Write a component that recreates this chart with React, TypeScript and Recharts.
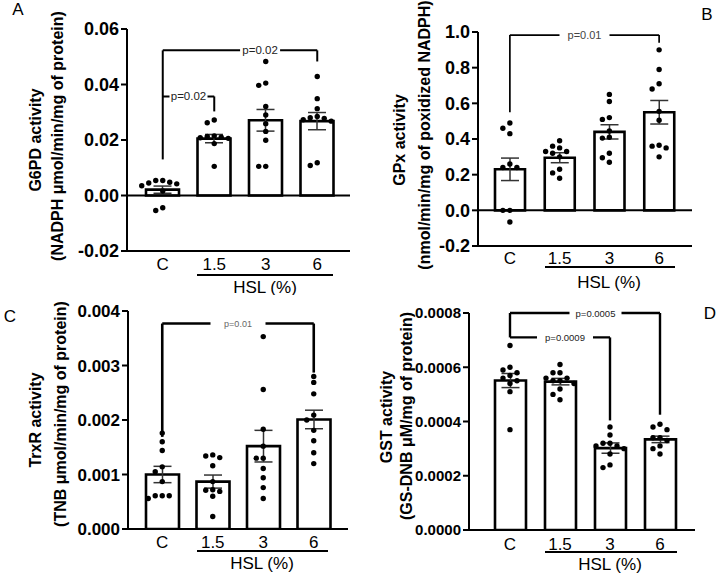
import React from 'react';
import { ComposedChart, Bar, ErrorBar, Scatter, XAxis, YAxis, ReferenceLine } from 'recharts';

const groups = ['C', '1.5', '3', '6'];

// Panel A – G6PD
const g6pdMean = [0.0021, 0.0205, 0.0271, 0.0268];
const g6pdSem = [0.0013, 0.0015, 0.0039, 0.0031];
const g6pdC = [0.0054, 0.0054, 0.0048, 0.0045, 0.0042, 0.0035, 0.0016, -0.0044, -0.0054];
const g6pd15 = [0.0272, 0.0262, 0.0215, 0.0213, 0.021, 0.0208, 0.0206, 0.0187, 0.0105];
const g6pd3 = [0.0483, 0.0405, 0.0397, 0.0321, 0.029, 0.0259, 0.0231, 0.0199, 0.0105, 0.0105];
const g6pd6 = [0.0429, 0.0349, 0.0313, 0.0285, 0.028, 0.0278, 0.0273, 0.0268, 0.0118, 0.0108];
const g6pdTicks = [-0.02, 0, 0.02, 0.04, 0.06];

// Panel B – GPx
const gpxMean = [0.23, 0.295, 0.44, 0.55];
const gpxSem = [0.063, 0.028, 0.04, 0.066];
const gpxC = [0.49, 0.46, 0.43, 0.26, 0.24, 0.24, 0.0, 0.0, -0.065];
const gpx15 = [0.39, 0.36, 0.35, 0.33, 0.33, 0.32, 0.3, 0.23, 0.21, 0.18];
const gpx3 = [0.65, 0.61, 0.52, 0.51, 0.445, 0.41, 0.405, 0.32, 0.295, 0.27];
const gpx6 = [0.9, 0.79, 0.71, 0.68, 0.555, 0.505, 0.365, 0.36, 0.35, 0.3];
const gpxTicks = [-0.2, 0, 0.2, 0.4, 0.6, 0.8, 1.0];

// Panel C – TrxR
const trxrMean = [0.001, 0.00087, 0.00152, 0.00201];
const trxrSem = [0.00015, 0.00012, 0.00029, 0.00017];
const trxrC = [0.00176, 0.0016, 0.00144, 0.00114, 0.00105, 0.00087, 0.00061, 0.00061, 0.00061, 0.00056];
const trxr15 = [0.00136, 0.00134, 0.00131, 0.00116, 0.00087, 0.00072, 0.00071, 0.00069, 0.0006, 0.00023];
const trxr3 = [0.00353, 0.00256, 0.00183, 0.00152, 0.0013, 0.0013, 0.00111, 0.00094, 0.00076, 0.00056];
const trxr6 = [0.0028, 0.00269, 0.00248, 0.00209, 0.002, 0.00181, 0.00162, 0.0014, 0.0012];
const trxrTicks = [0, 0.001, 0.002, 0.003, 0.004];

// Panel D – GST
const gstMean = [0.000551, 0.000547, 0.000302, 0.000334];
const gstSem = [0.000026, 0.000012, 0.000019, 0.000012];
const gstC = [0.00068, 0.0006, 0.00059, 0.00058, 0.00057, 0.00056, 0.00055, 0.00054, 0.00051, 0.00037];
const gst15 = [0.00061, 0.00058, 0.00058, 0.00056, 0.00056, 0.00055, 0.00055, 0.00054, 0.00052, 0.0005, 0.00048];
const gst3 = [0.00038, 0.00035, 0.00032, 0.00032, 0.00031, 0.00031, 0.0003, 0.00028, 0.00024, 0.00023];
const gst6 = [0.00039, 0.00038, 0.00037, 0.00034, 0.00034, 0.00033, 0.00031, 0.0003, 0.00028];
const gstTicks = [0, 0.0002, 0.0004, 0.0006, 0.0008];

const FONT = "'Liberation Sans', Arial, sans-serif";

type Bracket = {
  x1: string; x2: string; y: number; drop1?: number; drop2?: number;
  label: string; frac: number; gap: number; size: number; color: string; sw: number;
};

function swarm(values: number[], pxPerUnit: number): number[] {
  const placed: { v: number; s: number }[] = [];
  const order = [0, -1, 1, -2, 2, -3, 3, -4, 4];
  return values.map((v) => {
    for (const s of order) {
      if (!placed.some((p) => p.s === s && Math.abs(p.v - v) * pxPerUnit < 5.5)) {
        placed.push({ v, s });
        return s;
      }
    }
    return 0;
  });
}

const CatTick = (props: any) => {
  const { x, payload, labelY } = props;
  return (
    <text x={x} y={labelY} textAnchor="middle" dominantBaseline="central" fontSize={17} fill="#000" fontFamily={FONT}>
      {payload.value}
    </text>
  );
};

const HslLabel = (props: any) => {
  const { ux1, ux2, uy, tx, ty } = props;
  return (
    <g>
      <line x1={ux1} x2={ux2} y1={uy} y2={uy} stroke="#000" strokeWidth={2} />
      <text x={tx} y={ty} textAnchor="middle" dominantBaseline="central" fontSize={17} fill="#000" fontFamily={FONT}>
        HSL (%)
      </text>
    </g>
  );
};

const YTitle = (props: any) => {
  const { tLines, tXs, tYs } = props;
  return (
    <g>
      {tLines.map((t: string, i: number) => (
        <text
          key={i}
          x={tXs[i]}
          y={tYs[i]}
          transform={`rotate(-90, ${tXs[i]}, ${tYs[i]})`}
          textAnchor="middle"
          dominantBaseline="central"
          fontSize={16}
          fontWeight={700}
          fill="#000"
          fontFamily={FONT}
        >
          {t}
        </text>
      ))}
    </g>
  );
};

const BracketLabel = (props: any) => {
  const { viewBox, bText, bFrac, bGap, bSize, bColor } = props;
  if (!viewBox) return null;
  const cx = viewBox.x + viewBox.width * bFrac;
  const cy = viewBox.y;
  return (
    <g>
      <rect x={cx - bGap / 2} y={cy - 4} width={bGap} height={8} fill="#fff" />
      <text x={cx} y={cy} textAnchor="middle" dominantBaseline="central" fontSize={bSize} fill={bColor} fontFamily={FONT}>
        {bText}
      </text>
    </g>
  );
};

type PanelCfg = {
  letter: string;
  letterPos: [number, number];
  means: number[];
  sems: number[];
  pts: number[][];
  ticks: number[];
  dec: number;
  tickFont: number;
  zeroLine: boolean;
  titles: string[];
  brackets: Bracket[];
  box: { left: number; top: number; w: number; h: number };
  plot: { l: number; r: number; t: number; b: number };
  pad: { left: number; right: number };
  bw: number;
  catY: number;
  under: { x1: number; x2: number; y: number; tx: number; ty: number };
  titleX: number[];
  titleY: number[];
};

function Panel({ cfg }: { cfg: PanelCfg }) {
  const { box, plot } = cfg;
  const yMin = cfg.ticks[0];
  const yMax = cfg.ticks[cfg.ticks.length - 1];
  const pxPerUnit = (plot.b - plot.t) / (yMax - yMin);
  const barData = groups.map((g, i) => ({ group: g, mean: cfg.means[i], sem: cfg.sems[i] }));
  const pointData: { group: string; value: number; slot: number }[] = [];
  cfg.pts.forEach((vals, gi) => {
    const slots = swarm(vals, pxPerUnit);
    vals.forEach((v, k) => pointData.push({ group: groups[gi], value: v, slot: slots[k] }));
  });
  const YW = 60;
  const XH = 30;
  const margin = {
    top: plot.t,
    left: plot.l - YW,
    right: box.w - plot.r,
    bottom: box.h - plot.b - XH,
  };
  const lines: React.ReactNode[] = [];
  cfg.brackets.forEach((b, i) => {
    if (b.drop1 !== undefined) {
      lines.push(
        <ReferenceLine key={`l${i}`} ifOverflow="visible" stroke="#000" strokeWidth={b.sw}
          segment={[{ x: b.x1, y: b.drop1 }, { x: b.x1, y: b.y }]} />
      );
    }
    lines.push(
      <ReferenceLine key={`h${i}`} ifOverflow="visible" stroke="#000" strokeWidth={b.sw}
        segment={[{ x: b.x1, y: b.y }, { x: b.x2, y: b.y }]}
        label={<BracketLabel bText={b.label} bFrac={b.frac} bGap={b.gap} bSize={b.size} bColor={b.color} />} />
    );
    if (b.drop2 !== undefined) {
      lines.push(
        <ReferenceLine key={`r${i}`} ifOverflow="visible" stroke="#000" strokeWidth={b.sw}
          segment={[{ x: b.x2, y: b.y }, { x: b.x2, y: b.drop2 }]} />
      );
    }
  });
  return (
    <div style={{ position: 'absolute', left: box.left, top: box.top, width: box.w, height: box.h }}>
      <ComposedChart width={box.w} height={box.h} data={barData} margin={margin}>
        <XAxis
          dataKey="group"
          type="category"
          allowDuplicatedCategory={false}
          interval={0}
          height={XH}
          padding={cfg.pad}
          axisLine={{ stroke: '#000', strokeWidth: 2 }}
          tickLine={false}
          tick={<CatTick labelY={cfg.catY} />}
          label={<HslLabel ux1={cfg.under.x1} ux2={cfg.under.x2} uy={cfg.under.y} tx={cfg.under.tx} ty={cfg.under.ty} />}
        />
        <YAxis
          type="number"
          domain={[yMin, yMax]}
          ticks={cfg.ticks}
          allowDataOverflow
          interval={0}
          width={YW}
          tickFormatter={(v: number) => v.toFixed(cfg.dec)}
          axisLine={{ stroke: '#000', strokeWidth: 2 }}
          tickLine={{ stroke: '#000', strokeWidth: 2 }}
          tickSize={6}
          tickMargin={2}
          tick={{ fontSize: cfg.tickFont, fontWeight: 700, fill: '#000', fontFamily: FONT }}
          label={<YTitle tLines={cfg.titles} tXs={cfg.titleX} tYs={cfg.titleY} />}
        />
        {cfg.zeroLine && <ReferenceLine y={0} stroke="#000" strokeWidth={2} />}
        <Bar dataKey="mean" fill="#fff" stroke="#000" strokeWidth={2.6} barSize={cfg.bw} isAnimationActive={false}>
          <ErrorBar dataKey="sem" width={9} stroke="#333" strokeWidth={1.5} />
        </Bar>
        <Scatter
          data={pointData}
          dataKey="value"
          isAnimationActive={false}
          shape={(p: any) => (
            <circle cx={p.cx + (p.payload?.slot ?? 0) * 7} cy={p.cy} r={2.7} fill="#000" />
          )}
        />
        {lines}
      </ComposedChart>
    </div>
  );
}

const panels: PanelCfg[] = [
  {
    letter: 'A', letterPos: [18, 9],
    means: g6pdMean, sems: g6pdSem, pts: [g6pdC, g6pd15, g6pd3, g6pd6],
    ticks: g6pdTicks, dec: 2, tickFont: 18, zeroLine: true,
    titles: ['G6PD activity', '(NADPH \u03bcmol/min/mg of protein)'],
    brackets: [
      { x1: 'C', x2: '6', y: 0.0523, drop1: 0.013, drop2: 0.0483, label: 'p=0.02', frac: 0.63, gap: 40, size: 11.5, color: '#222', sw: 2 },
      { x1: 'C', x2: '1.5', y: 0.0357, drop2: 0.0303, label: 'p=0.02', frac: 0.5, gap: 38, size: 11.5, color: '#222', sw: 2 },
    ],
    box: { left: 0, top: 0, w: 362, h: 295 },
    plot: { l: 127, r: 350, t: 29, b: 251 },
    pad: { left: 10, right: 7 }, bw: 33, catY: 264,
    under: { x1: 197, x2: 333, y: 275, tx: 265, ty: 287 },
    titleX: [35, 57], titleY: [140, 136],
  },
  {
    letter: 'B', letterPos: [707, 14],
    means: gpxMean, sems: gpxSem, pts: [gpxC, gpx15, gpx3, gpx6],
    ticks: gpxTicks, dec: 1, tickFont: 18, zeroLine: true,
    titles: ['GPx activity', '(nmol/min/mg of poxidized NADPH)'],
    brackets: [
      { x1: 'C', x2: '6', y: 0.983, drop1: 0.55, drop2: 0.94, label: 'p=0.01', frac: 0.5, gap: 50, size: 11, color: '#444', sw: 1.7 },
    ],
    box: { left: 362, top: 0, w: 362, h: 295 },
    plot: { l: 116, r: 330, t: 32, b: 246 },
    pad: { left: 7, right: 8 }, bw: 30, catY: 258,
    under: { x1: 183, x2: 313, y: 267, tx: 247, ty: 282 },
    titleX: [37, 62], titleY: [140, 135],
  },
  {
    letter: 'C', letterPos: [10, 316],
    means: trxrMean, sems: trxrSem, pts: [trxrC, trxr15, trxr3, trxr6],
    ticks: trxrTicks, dec: 3, tickFont: 17, zeroLine: false,
    titles: ['TrxR activity', '(TNB \u03bcmol/min/mg of protein)'],
    brackets: [
      { x1: 'C', x2: '6', y: 0.00377, drop1: 0.00169, drop2: 0.00287, label: 'p=0.01', frac: 0.5, gap: 55, size: 9, color: '#666', sw: 2.6 },
    ],
    box: { left: 0, top: 290, w: 362, h: 285 },
    plot: { l: 128, r: 348, t: 21, b: 239 },
    pad: { left: 9, right: 9 }, bw: 33, catY: 252,
    under: { x1: 197, x2: 328, y: 261, tx: 262, ty: 273 },
    titleX: [35, 60], titleY: [130, 124],
  },
  {
    letter: 'D', letterPos: [710, 313],
    means: gstMean, sems: gstSem, pts: [gstC, gst15, gst3, gst6],
    ticks: gstTicks, dec: 4, tickFont: 15, zeroLine: false,
    titles: ['GST activity', '(GS-DNB \u03bcM/mg of protein)'],
    brackets: [
      { x1: 'C', x2: '6', y: 0.0008, drop1: 0.00071, drop2: 0.000425, label: 'p=0.0005', frac: 0.57, gap: 52, size: 9.5, color: '#222', sw: 2.4 },
      { x1: 'C', x2: '3', y: 0.00071, drop2: 0.000404, label: 'p=0.0009', frac: 0.55, gap: 56, size: 9.5, color: '#222', sw: 2.4 },
    ],
    box: { left: 362, top: 290, w: 362, h: 285 },
    plot: { l: 107, r: 333, t: 23, b: 240 },
    pad: { left: 16, right: 10 }, bw: 31, catY: 254,
    under: { x1: 183, x2: 315, y: 262, tx: 248, ty: 274 },
    titleX: [24, 44], titleY: [127, 126],
  },
];

export default function App() {
  return (
    <div style={{ position: 'absolute', left: 0, top: 0, width: 724, height: 575, background: '#fff', fontFamily: FONT, overflow: 'hidden' }}>
      {panels.map((p) => (
        <Panel key={p.letter} cfg={p} />
      ))}
      {panels.map((p) => (
        <div
          key={`lt${p.letter}`}
          style={{
            position: 'absolute',
            left: p.letterPos[0],
            top: p.letterPos[1],
            transform: 'translate(-50%, -50%)',
            fontSize: 17,
            color: '#000',
            fontFamily: FONT,
            lineHeight: 1,
          }}
        >
          {p.letter}
        </div>
      ))}
    </div>
  );
}
